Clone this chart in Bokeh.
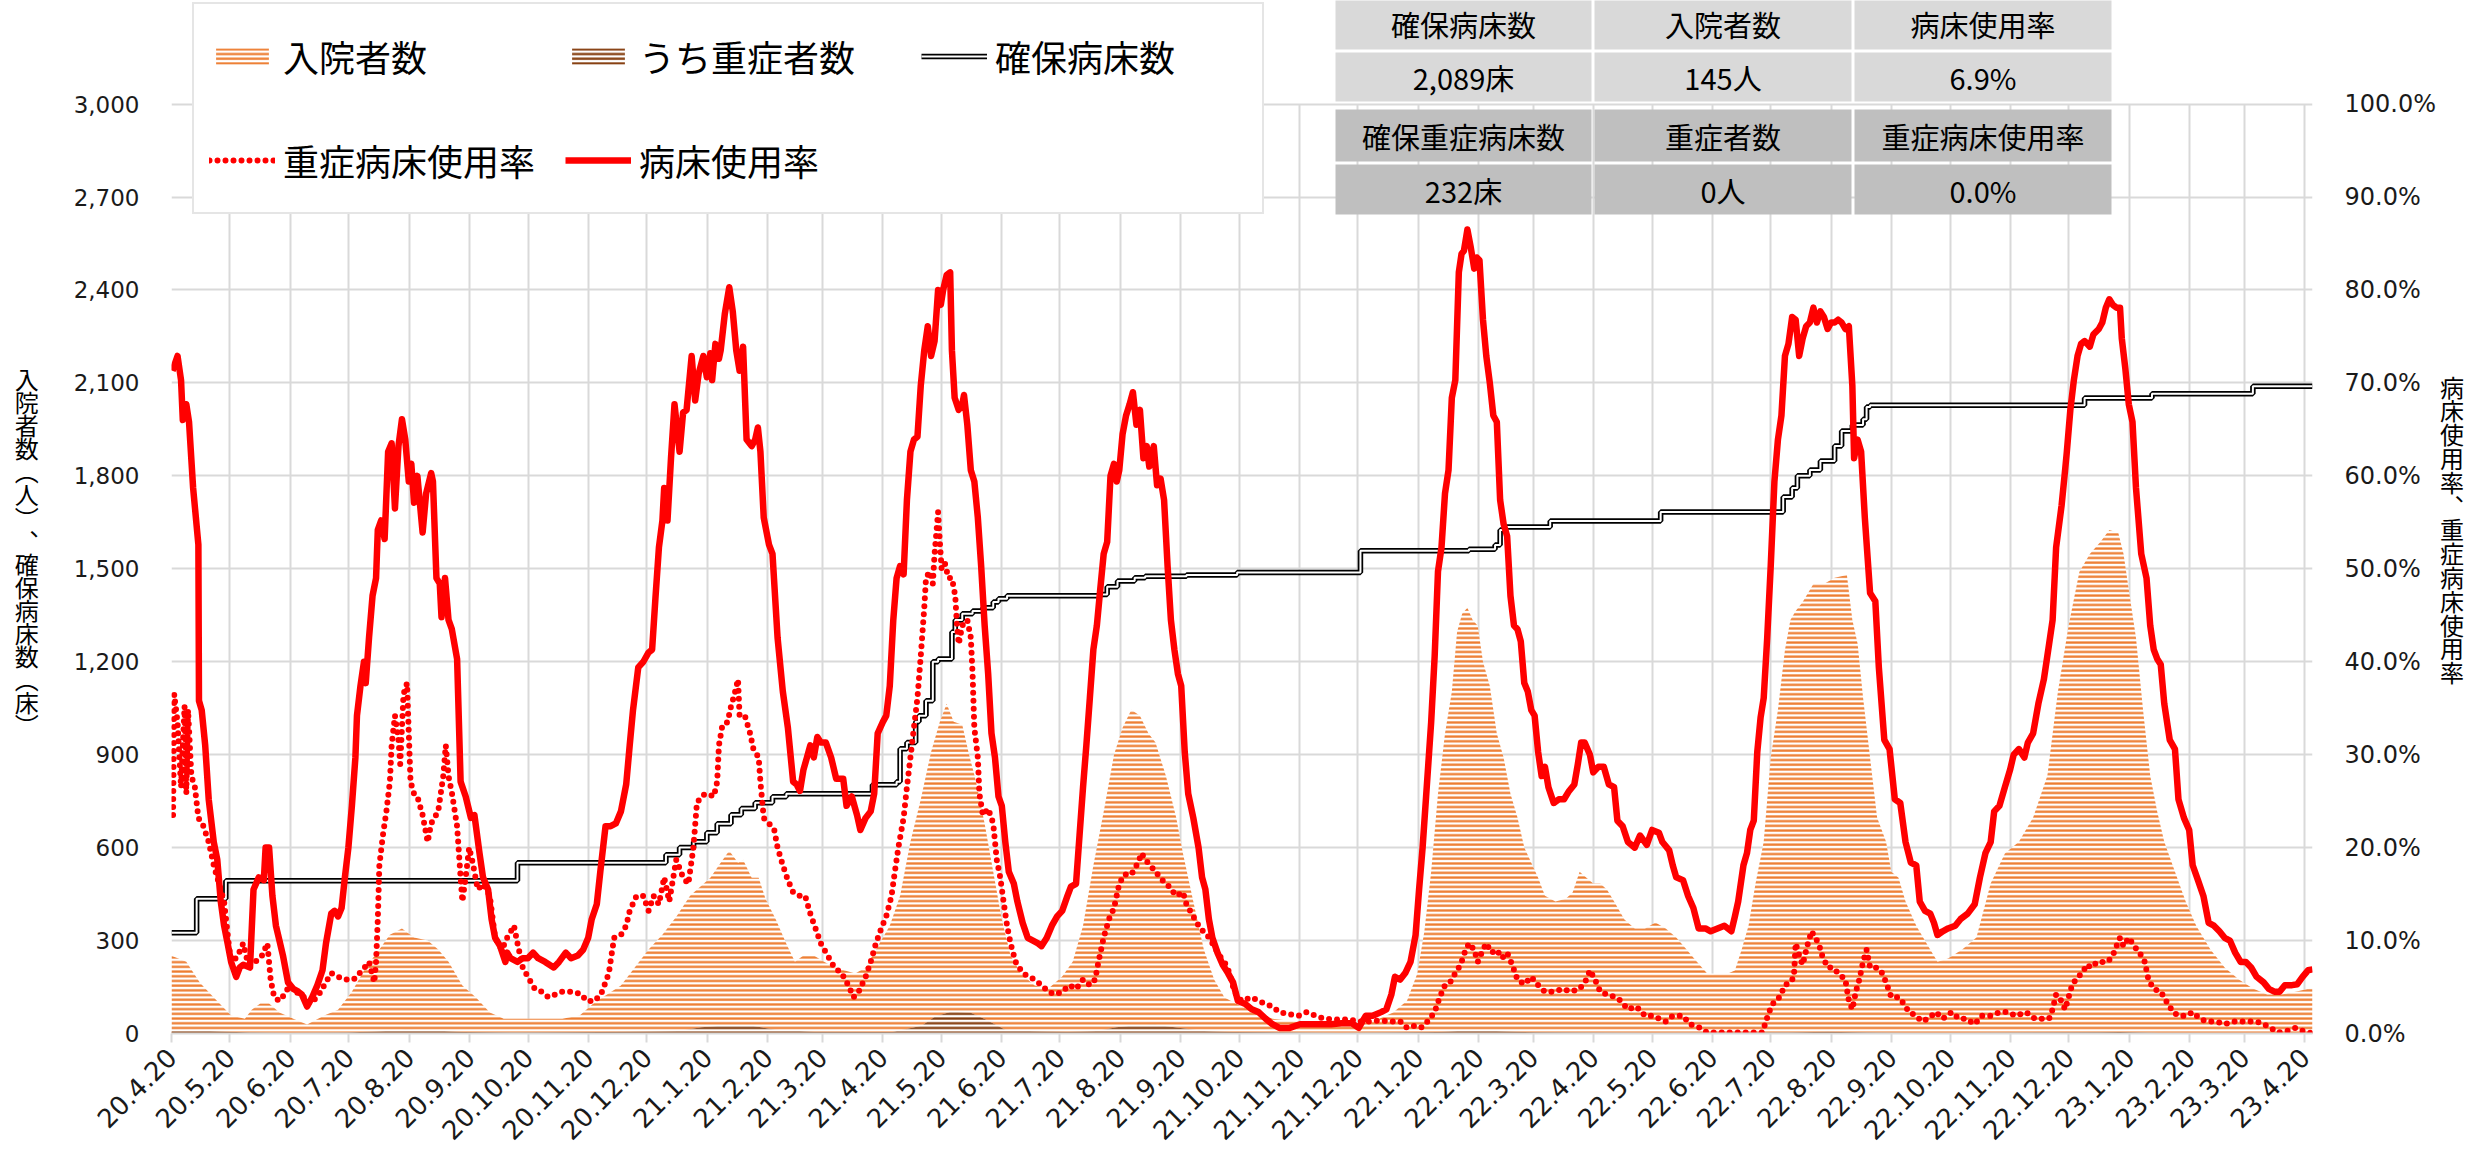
import math
import pandas as pd
from bokeh.plotting import figure
from bokeh.models import (Range1d, LinearAxis, FixedTicker, NumeralTickFormatter,
                          PrintfTickFormatter, Legend, LegendItem, Label, BoxAnnotation,
                          Axis, Grid)
from bokeh.embed import file_html
from bokeh.resources import INLINE

# ---------------- data (x = days since 2020-04-20) ----------------
START = pd.Timestamp("2020-04-20")
END = pd.Timestamp("2023-04-20")

# 病床使用率 (%)
RATE = [(0.5,71.3),(3.1,72.9),(4.9,70.3),(5.8,66.0),(7.6,67.7),(9.0,65.8),(11.1,58.7),(13.8,52.6),(14.1,35.8),(15.5,34.8),(17.3,31.0),(19.1,25.2),(21.7,20.6),(23.5,18.7),(25.3,14.2),(27.0,11.6),(28.8,9.7),(30.6,7.7),(33.2,6.1),(35.0,7.1),(36.8,7.4),(40.3,7.1),(42.1,15.5),(44.8,16.8),(47.4,16.5),(48.3,20.0),(50.1,20.0),(51.8,14.8),(53.6,11.6),(55.4,10.0),(57.2,8.4),(59.8,5.5),(62.5,4.8),(65.1,4.5),(66.9,4.2),(69.6,2.9),(72.2,3.9),(74.9,5.2),(77.5,6.8),(79.3,9.7),(82.0,12.9),(83.7,13.2),(85.5,12.6),(87.3,13.5),(89.0,16.8),(90.8,20.0),(92.6,24.5),(94.4,29.7),(95.2,34.2),(97.0,37.4),(98.8,40.0),(99.7,37.7),(101.4,42.6),(103.2,47.1),(105.0,49.0),(105.9,54.2),(107.6,55.2),(109.4,53.2),(111.2,62.6),(113.0,63.5),(114.7,56.5),(116.5,63.2),(118.3,66.1),(120.0,63.9),(121.8,59.4),(123.1,61.3),(124.5,57.1),(126.2,60.0),(128.9,53.9),(130.7,58.1),(133.3,60.3),(134.2,59.4),(136.0,49.0),(137.7,48.4),(138.6,44.8),(140.4,49.0),(142.2,44.5),(143.9,43.5),(146.6,40.3),(148.4,27.1),(151.0,25.5),(153.7,23.2),(155.5,23.5),(158.1,19.4),(159.9,16.8),(162.5,15.5),(164.3,12.3),(166.1,10.3),(168.7,9.4),(171.4,7.7),(172.3,8.7),(174.0,8.1),(177.6,7.7),(180.3,8.1),(182.9,8.1),(185.6,8.7),(188.2,8.1),(191.8,7.7),(196.2,7.1),(198.9,7.7),(202.4,8.7),(205.1,8.1),(208.6,8.4),(211.3,9.0),(213.9,10.3),(215.7,12.3),(218.3,13.9),(220.1,17.4),(222.8,22.3),(225.4,22.3),(228.1,22.6),(230.7,23.9),(233.4,26.8),(235.2,31.0),(236.9,34.8),(239.6,39.4),(242.2,40.0),(244.9,41.0),(246.7,41.3),(248.4,46.8),(250.2,52.3),(252.0,55.2),(252.9,58.7),(254.6,55.2),(256.4,61.9),(258.2,67.7),(260.8,62.6),(262.6,66.8),(264.4,67.1),(267.0,72.9),(268.8,68.1),(270.6,71.0),
        (273.0,72.9),(274.8,70.6),(276.6,73.2),(277.5,70.3),(279.2,74.2),(281.0,72.6),(281.9,73.5),(284.0,77.4),(286.3,80.3),(288.1,77.7),(289.9,73.5),(291.6,71.3),(293.4,73.9),(295.2,63.9),(297.8,63.2),(299.6,63.9),(301.0,65.2),(302.3,62.6),(304.0,55.5),(306.7,52.6),(308.5,51.6),(311.1,42.6),(313.8,36.8),(316.4,32.9),(319.1,27.1),(320.9,26.8),(322.6,26.1),(324.4,28.4),(326.2,29.7),(327.9,31.0),(329.7,29.7),(331.5,31.9),(333.3,31.3),(335.9,31.3),(338.6,29.7),(341.2,27.4),(344.8,27.4),(346.5,24.5),(349.2,25.5),(351.9,23.5),(353.6,21.9),(356.3,23.2),(358.9,23.9),(360.7,25.8),(362.5,32.3),(365.1,33.5),(366.9,34.2),(368.7,37.4),(370.5,44.5),(372.2,49.0),(374.0,50.3),(375.8,49.4),(377.5,57.4),(379.3,62.6),(381.1,63.9),(382.9,64.2),(384.6,69.7),(386.4,73.5),(388.2,76.1),(389.9,72.9),(391.7,74.5),(393.5,80.0),(394.9,78.4),(396.1,80.0),(397.9,81.6),(399.7,81.9),(400.6,73.5),(402.0,68.4),(404.1,67.1),(405.9,67.7),(406.8,68.7),(408.5,65.5),(410.3,60.6),(412.1,59.4),(413.9,55.5),(415.6,50.3),(417.4,43.9),(419.2,38.7),(420.9,32.3),(422.7,29.7),(424.5,25.5),(426.2,24.5),(428.0,20.6),(429.8,17.4),(432.4,16.1),(434.2,14.2),(436.9,11.9),(439.5,10.3),(442.2,10.0),(444.8,9.7),(446.6,9.4),(449.3,10.3),(451.9,11.6),(454.6,12.6),(457.2,13.2),(459.9,14.8),(461.7,15.8),(464.3,16.1),(466.1,21.3),(467.9,26.5),(469.6,31.0),(471.4,36.1),(473.2,41.3),(475.0,43.9),(476.7,47.7),(478.5,51.6),(480.3,52.9),(482.0,60.0),(483.8,61.3),(485.2,59.4),(486.5,60.6),(488.2,64.5),(490.0,66.5),(491.8,67.7),(493.5,69.0),(495.3,65.5),(497.1,67.1),(498.9,61.9),(500.6,63.2),(501.9,61.0),(504.2,63.2),(505.9,59.0),(507.7,59.7),(509.5,57.4),(511.3,50.3),(513.0,44.5),(514.8,41.3),(516.6,38.7),(518.3,37.4),(520.1,30.3),(521.9,25.8),(524.5,23.2),(527.2,20.0),(529.0,16.8),(530.7,15.5),(532.5,12.3),(534.3,10.3),(536.9,8.7),(539.6,7.4),(542.3,6.5),(544.9,5.5),
        (547.4,3.5),(551.0,3.2),(554.5,2.6),(558.0,2.3),(561.6,1.6),(565.1,1.0),(568.7,0.6),(574.0,0.6),(579.3,1.0),(584.6,1.0),(589.9,1.0),(595.2,1.0),(600.5,1.1),(605.9,1.1),(609.4,0.6),(613.0,1.9),(616.5,1.9),(620.9,2.3),(623.6,2.6),(626.2,4.2),(628.0,6.1),(630.7,5.8),(633.3,6.5),(636.0,7.7),(638.6,10.6),(640.4,15.5),(642.2,20.0),(644.0,25.5),(646.6,33.5),(648.4,40.6),(650.1,49.7),(651.9,52.3),(653.7,58.1),(655.5,60.6),(657.2,68.4),(659.0,70.3),(660.8,81.9),(662.2,83.9),(663.4,84.2),(665.2,86.5),(667.0,84.5),(668.7,82.3),(670.0,83.5),(671.4,83.2),(673.2,76.8),(674.9,72.9),(676.7,70.0),(678.5,66.5),(680.3,65.8),(682.0,57.4),(683.8,54.8),(685.6,53.5),(687.3,47.1),(689.1,43.9),(690.9,43.5),(692.6,42.2),(694.4,37.7),(696.2,36.8),(698.0,34.8),(699.7,34.2),(701.5,30.3),(703.3,27.7),(705.0,28.7),(706.8,26.5),(709.5,24.8),(712.1,25.2),(714.8,25.2),(717.4,26.1),(720.1,26.8),(721.9,29.0),(723.6,31.3),(725.4,31.3),(728.1,30.0),(729.8,28.1),(732.5,28.7),(735.2,28.7),(737.8,26.8),(740.5,26.5),(742.2,22.9),(744.9,22.3),(747.6,20.6),(751.1,20.0),(753.8,21.3),(757.3,20.3),(760.0,21.9),(763.5,21.6),(765.3,20.6),(768.8,19.7),(770.6,18.1),(772.4,16.8),(775.9,16.5),(778.5,14.8),(781.2,13.5),(783.9,11.3),(787.4,11.3),(790.1,11.0),(793.6,11.3),(797.1,11.6),(800.7,11.0),(802.5,12.6),(804.2,14.2),(806.9,18.1),(808.7,19.4),(810.4,21.9),(812.2,22.9),(814.0,30.3),(815.7,34.0),
        (817.3,36.1),(819.1,42.6),(820.9,50.3),(822.8,59.4),(824.6,63.9),(826.4,66.5),(828.2,72.9),(830.0,74.2),(831.9,77.1),(833.7,76.8),(835.5,72.9),(837.3,74.8),(839.1,76.1),(841.0,76.5),(842.8,78.1),(844.6,76.5),(846.4,77.7),(848.2,77.1),(850.1,75.8),(851.9,76.5),(853.7,76.5),(855.5,76.8),(857.3,76.5),(859.2,75.8),(861.0,76.1),(862.8,69.7),(863.7,61.9),(865.5,63.9),(867.3,62.6),(869.2,55.5),(871.9,47.4),(874.6,46.5),(876.4,39.4),(879.2,31.6),(881.9,30.6),(884.6,25.2),(887.4,24.8),(890.1,20.6),(892.8,18.4),(895.6,18.1),(897.4,14.2),(900.1,13.2),(902.8,12.9),(904.7,11.9),(906.5,10.6),(909.2,11.0),(911.9,11.3),(915.6,11.6),(918.3,12.3),(922.0,12.9),(925.6,13.9),(928.3,16.8),(931.1,19.4),(933.8,20.6),(935.6,23.9),(938.3,24.5),(941.1,26.5),(943.8,28.4),(945.6,30.0),(948.3,30.6),(951.1,29.7),(952.9,31.3),(955.6,32.3),(958.3,35.5),(961.1,38.1),(963.8,41.9),(965.6,44.5),(967.4,52.3),(970.2,56.8),(972.0,60.6),(972.9,62.6),(974.7,67.1),(976.5,70.3),(978.4,72.9),(980.2,74.2),(982.0,74.5),(984.7,73.9),(986.5,75.2),(989.3,75.8),(991.1,76.5),(992.9,78.1),(994.7,79.0),(996.5,78.4),(998.4,78.1),(1000.2,78.1),(1001.1,74.8),(1002.9,71.6),(1004.7,67.7),(1006.6,65.8),(1008.4,58.7),(1011.1,51.6),(1013.8,49.0),(1015.7,43.9),(1017.5,41.3),(1019.3,40.3),(1021.1,39.7),(1022.9,35.5),(1025.7,31.6),(1028.4,30.6),(1030.2,25.2),(1033.0,23.2),(1035.7,21.9),(1037.5,18.1),(1040.2,16.5),(1043.0,14.8),(1045.7,11.9),(1048.4,11.6),(1051.2,11.0),(1053.9,10.3),(1056.6,10.0),(1059.3,8.7),(1062.1,7.7),(1064.8,7.7),(1067.5,7.1),(1070.3,6.1),(1073.9,5.5),(1076.6,4.8),(1079.4,4.5),(1082.1,4.5),(1084.8,5.2),(1088.5,5.2),(1091.2,5.3),(1093.9,6.1),(1096.7,6.8),(1099.0,6.9)]

# 重症病床使用率 (%)
SEV_RATE = [(0.8,23.5),(1.4,36.5),(3.1,33.5),(4.9,26.5),(6.7,35.2),(7.6,25.8),(8.5,34.8),(10.2,27.7),(12.0,26.5),(13.8,23.2),(16.4,22.3),(19.1,20.6),(21.7,18.1),(24.4,16.1),(27.0,14.2),(29.7,9.0),(31.5,7.7),(34.1,8.4),(36.8,9.7),(39.4,7.4),(43.0,7.7),(46.5,8.4),(49.2,9.7),(50.9,5.8),(52.7,3.9),(55.4,3.5),(58.0,4.2),(60.7,5.2),(63.4,4.5),(66.9,4.2),(70.4,3.2),(74.9,3.9),(78.4,5.2),(82.0,6.5),(85.5,6.1),(89.0,5.8),(93.5,5.8),(97.9,6.8),(101.4,7.7),(104.1,5.5),(105.0,7.7),(105.9,12.3),(106.7,18.1),(108.5,21.3),(110.3,23.9),(112.1,27.1),(113.0,31.0),(114.7,34.2),(116.5,31.6),(117.4,29.0),(119.1,36.5),(120.9,37.7),(121.8,32.3),(122.7,27.1),(124.5,25.8),(126.2,25.5),(128.9,23.5),(131.5,20.6),(133.3,22.6),(136.9,23.9),(139.5,27.7),(140.8,31.0),(142.2,27.7),(144.0,25.8),(146.6,22.3),(148.4,16.8),(149.3,14.2),(151.0,16.8),(152.8,20.0),(154.6,18.4),(157.2,15.5),(159.9,16.1),(163.4,14.8),(166.1,10.3),(169.6,9.0),(172.3,10.3),(175.8,11.6),(177.6,9.7),(180.3,7.1),(182.9,6.1),(186.5,4.8),(190.0,4.5),(193.5,3.9),(197.1,4.2),(200.6,4.5),(205.9,4.5),(210.4,4.2),(213.0,3.5),(217.5,3.5),(221.0,4.5),(224.5,6.5),(227.2,10.3),(230.7,10.6),(233.4,11.6),(235.2,13.2),(238.7,14.8),(242.2,14.8),(244.9,13.2),(247.5,14.8),(250.2,13.9),(252.9,16.8),(255.5,14.2),(259.1,18.7),(262.6,16.8),(265.3,16.1),(267.9,20.0),(269.7,24.8),(272.3,25.6),
            (274.8,25.8),(278.4,25.5),(280.1,27.1),(281.0,31.0),(282.8,33.2),(285.4,33.5),(287.2,35.2),(289.0,36.5),(290.8,38.1),(291.6,34.2),(294.3,34.2),(297.0,32.3),(298.7,30.6),(301.4,29.7),(302.3,27.1),(304.0,23.2),(306.7,22.6),(309.4,21.9),(311.1,20.0),(313.8,18.1),(316.4,16.5),(319.1,15.2),(322.6,14.8),(325.3,14.8),(327.9,12.9),(330.6,11.3),(333.3,9.7),(336.8,8.4),(340.3,7.1),(343.9,6.5),(347.4,5.2),(350.1,3.9),(352.7,4.5),(356.3,6.1),(358.9,7.7),(361.6,9.7),(364.3,11.3),(366.9,12.6),(369.6,14.8),(371.3,17.4),(373.1,20.0),(375.8,23.2),(377.5,26.5),(379.3,29.7),(381.1,32.9),(382.9,36.1),(384.6,40.6),(386.4,45.8),(387.3,49.0),(389.1,49.7),(390.8,48.4),(391.7,51.6),(393.5,56.1),(394.4,52.9),(395.3,50.0),(397.0,50.6),(398.8,49.0),(400.6,49.0),(402.3,47.1),(403.2,43.9),(404.1,41.9),(405.9,43.9),(408.5,44.5),(410.3,42.6),(411.2,38.7),(412.1,32.9),(413.9,29.7),(414.7,25.8),(416.5,23.5),(419.2,24.2),(421.8,22.6),(423.6,18.7),(425.4,16.8),(427.1,14.2),(428.9,11.6),(430.7,9.7),(433.3,7.7),(436.9,6.5),(440.4,6.1),(443.1,5.8),(446.6,5.2),(450.2,4.5),(453.7,4.2),(457.2,4.5),(460.8,5.2),(464.3,4.8),(467.9,5.8),(471.4,5.2),(474.1,5.8),(475.8,7.7),(478.5,10.3),(481.2,12.3),(483.8,13.5),(486.5,16.1),(489.1,17.1),(492.7,17.1),(496.2,18.4),(498.0,19.4),(499.8,18.7),(502.4,18.1),(505.1,17.4),(508.6,16.5),(512.1,15.8),(515.7,14.8),(519.2,15.2),(521.0,13.9),(524.5,12.6),(528.1,11.3),(531.6,10.6),(535.2,9.4),(537.8,8.4),(540.5,7.7),(543.1,6.5),
            (545.6,4.5),(549.2,3.5),(554.5,3.9),(558.0,3.5),(561.6,3.2),(565.1,2.9),(568.7,2.3),(573.1,2.1),(578.4,1.9),(582.8,2.3),(587.3,1.9),(591.7,1.6),(597.0,1.5),(605.0,1.5),(609.4,1.3),(614.7,1.3),(620.0,1.4),(625.3,1.3),(630.7,1.3),(634.2,0.6),(637.7,0.8),(641.3,0.6),(644.8,1.3),(648.4,2.3),(651.0,3.9),(653.7,5.2),(656.3,5.5),(659.0,6.5),(661.7,7.4),(664.3,9.0),(666.1,9.7),(668.7,9.0),(670.5,7.7),(673.2,9.0),(674.9,9.7),(677.6,8.7),(680.3,9.0),(682.9,8.1),(685.6,8.7),(688.2,7.4),(690.9,5.8),(694.4,5.3),(698.0,6.1),(701.5,5.2),(705.0,4.5),(709.5,4.5),(713.9,4.8),(718.3,4.5),(722.8,4.8),(726.3,5.8),(728.1,6.8),(730.7,5.8),(733.4,4.5),(736.9,4.2),(741.4,3.9),(744.0,3.5),(747.6,2.6),(752.0,2.9),(756.4,1.9),(760.8,1.9),(763.5,1.6),(767.0,1.3),(770.6,1.9),(775.9,1.9),(779.4,1.0),(784.7,0.6),(788.3,0.1),(793.6,0.1),(800.7,0.1),(806.0,0.1),(811.3,0.1),(816.6,0.1),
            (820.0,2.3),(822.8,3.5),(825.5,3.9),(828.2,5.2),(831.0,5.5),(832.8,6.1),(833.7,9.7),(835.5,8.4),(837.3,7.4),(840.0,9.7),(841.9,11.0),(843.7,10.3),(845.5,9.7),(847.3,8.4),(850.1,7.1),(852.8,7.1),(855.5,6.5),(859.2,5.8),(861.0,3.5),(862.8,2.6),(864.6,4.5),(866.4,5.8),(868.3,7.7),(870.1,9.0),(871.9,7.1),(874.6,7.1),(877.4,6.8),(880.1,5.5),(882.8,3.9),(886.5,3.9),(889.2,3.2),(891.9,2.3),(895.6,1.9),(898.3,1.3),(901.9,1.6),(905.6,2.3),(909.2,1.6),(913.8,2.3),(917.4,1.6),(921.0,1.6),(925.6,1.0),(929.2,1.9),(933.8,1.9),(938.3,2.3),(942.9,2.3),(946.5,1.9),(952.0,2.3),(956.5,1.6),(961.1,1.6),(963.8,1.6),(965.6,2.6),(967.4,4.2),(970.2,3.5),(972.0,2.6),(973.8,3.9),(975.6,5.2),(978.4,6.1),(981.1,6.5),(982.9,7.4),(985.6,7.1),(988.4,7.7),(991.1,7.7),(993.8,7.7),(996.5,8.4),(998.4,9.4),(1000.2,10.3),(1002.0,9.4),(1004.7,10.3),(1007.5,9.4),(1010.2,8.7),(1012.9,7.7),(1014.8,5.8),(1017.5,4.8),(1021.1,4.5),(1023.9,3.5),(1027.5,2.3),(1030.2,1.9),(1033.9,1.9),(1037.5,2.3),(1041.1,1.6),(1044.8,1.3),(1049.3,1.3),(1053.9,1.0),(1059.3,1.3),(1064.8,1.3),(1070.3,1.3),(1073.9,1.0),(1077.5,0.6),(1081.2,0.1),(1086.6,0.3),(1090.3,0.6),(1093.9,0.3),(1097.5,0.1),(1099.0,0.0)]

# 入院者数 (人)
HOSP = [(0,251),(7.6,232),(14.6,164),(21.7,116),(30.6,58),(37.7,48),(41.2,77),(45.6,97),(50.1,97),(55.4,68),(62.5,48),(69.6,29),(78.4,58),(85.5,77),(92.6,135),(99.7,213),(106.7,271),(112.1,319),(118.3,339),(124.5,310),(131.5,300),(136.9,271),(142.2,232),(149.3,155),(156.3,116),(163.4,68),(170.5,48),(182.9,48),(191.8,48),(200.6,48),(209.5,58),(216.6,97),(223.6,126),(230.7,155),(237.8,213),(244.9,271),(252.0,319),(259.1,377),(266.2,445),
        (276.6,503),(281.9,551),(286.3,590),(290.8,551),(293.4,561),(297.8,503),(301.4,503),(304.9,435),(310.2,368),(315.6,290),(320.0,232),(324.4,252),(329.7,252),(335.0,232),(340.3,213),(345.7,203),(351.0,194),(356.3,213),(361.6,271),(368.7,348),(374.0,445),(379.3,619),(384.6,755),(389.9,909),(394.4,1006),(397.9,1064),(401.5,1006),(405.9,997),(409.4,900),(413.0,813),(417.4,677),(421.8,522),(426.2,368),(430.7,252),(436.0,194),(443.1,155),(450.2,145),(457.2,184),(462.6,232),(467.9,348),(473.2,542),(478.5,716),(483.8,900),(488.2,987),(492.7,1045),(497.1,1026),(501.5,968),(505.1,939),(510.4,832),(515.7,697),(519.2,581),(524.5,426),(529.9,271),(535.2,174),(540.5,116),
        (549.2,87),(556.3,68),(565.1,48),(577.5,39),(595.2,35),(609.4,29),(620.0,48),(627.1,68),(634.2,106),(639.5,194),(643.1,329),(646.6,522),(650.1,774),(653.7,968),(657.2,1103),(659.9,1296),(662.5,1355),(665.2,1374),(667.9,1335),(670.5,1316),(673.2,1200),(676.7,1122),(680.3,968),(683.8,890),(687.3,774),(690.9,697),(694.4,600),(698.0,551),(701.5,503),(705.0,445),(710.4,426),(715.7,435),(719.2,455),(722.8,522),(726.3,503),(729.8,484),(733.4,484),(736.9,464),(740.5,426),(745.8,368),(751.1,339),(756.4,339),(761.7,358),(767.0,339),(772.4,310),(777.7,271),(783.0,232),(788.3,194),(793.6,194),(798.9,194),(802.5,203),(806.0,271),(809.5,348),(813.1,484),
        (817.3,619),(820.9,890),(824.6,1045),(828.2,1238),(831.0,1335),(833.7,1364),(837.3,1393),(842.8,1451),(848.2,1451),(853.7,1471),(860.0,1480),(862.8,1335),(865.5,1258),(868.3,1084),(871.9,890),(875.5,697),(880.1,619),(882.8,522),(886.5,503),(890.1,426),(895.6,348),(901.0,290),(906.5,232),(911.9,242),(919.2,271),(926.5,310),(933.8,484),(941.1,581),(948.3,619),(955.6,697),(962.9,832),(968.3,1103),(973.8,1316),(979.3,1490),(984.7,1548),(990.2,1587),(994.7,1625),(999.3,1616),(1002.0,1548),(1004.7,1432),(1008.4,1277),(1012.0,1045),(1015.7,832),(1019.3,716),(1022.9,619),(1028.4,522),(1033.9,426),(1039.3,348),(1046.6,271),(1053.9,213),(1061.2,174),(1068.4,145),(1075.7,126),(1083.0,126),(1090.3,135),(1097.5,145),(1099.0,145)]

# うち重症者数 (人)
SEVERE = [(0,10),(20,8),(40,3),(60,2),(90,3),(110,8),(120,12),(135,10),(150,5),(180,3),(220,5),(260,8),(272,20),(285,27),(298,25),(310,12),(330,6),(360,5),(370,5),(385,25),(392,55),(400,70),(410,68),(418,45),(428,12),(440,8),(460,6),(475,8),(485,20),(495,27),(505,28),(515,20),(530,8),(545,5),(600,2),(650,5),(665,10),(680,8),(700,4),(760,2),(830,3),(850,6),(870,3),(900,1),(990,4),(1000,5),(1020,2),(1099,0)]

# 確保病床数 (床) — change points of the step line
BEDS = [(0,325),(12.9,435),(27.9,493),(177.6,551),(253.8,577),(260.8,600),(268.0,619),(274.8,648),(280.1,677),(287.2,706),(292.5,726),(299.6,745),(308.5,764),(315.6,774),(359.8,803),(372.2,813),(374.0,919),(377.5,939),(382.0,1006),(383.7,1026),(387.3,1074),(390.8,1200),(393.5,1209),(400.6,1296),(402.3,1335),(405.9,1355),(411.2,1364),(416.5,1374),(421.8,1393),(424.5,1403),(428.9,1413),(476.7,1417),(480.3,1442),(485.6,1461),(494.4,1471),(499.8,1476),(521.0,1480),(547.0,1488),(610.3,1558),(666.0,1563),(679.4,1577),(682.0,1625),(684.7,1635),(707.7,1654),(764.4,1683),(827.3,1732),(831.9,1761),(834.6,1800),(841.0,1819),(846.4,1848),(853.7,1896),(857.3,1945),(862.8,1964),(868.3,1983),(870.1,2022),(871.9,2028),(982.0,2051),(1016.6,2065),(1068.4,2089),(1099.0,2089)]

TABLE_HEAD1 = ["確保病床数", "入院者数", "病床使用率"]
TABLE_VAL1 = ["2,089床", "145人", "6.9%"]
TABLE_HEAD2 = ["確保重症病床数", "重症者数", "重症病床使用率"]
TABLE_VAL2 = ["232床", "0人", "0.0%"]

LEFT_TITLE = "入院者数︵人︶︑確保病床数︵床︶"
RIGHT_TITLE = "病床使用率︑重症病床使用率"

TICK_DATES = [pd.Timestamp(y, m, 20) for y in range(2020, 2024) for m in range(1, 13)
              if START <= pd.Timestamp(y, m, 20) <= END]
TICK_DAYS = [(t - START).days for t in TICK_DATES]
TICK_LABELS = [f"{t.year % 100}.{t.month}.{t.day}" for t in TICK_DATES]
Y_TICKS = list(range(0, 3001, 300))
P_TICKS = list(range(0, 101, 10))


def cols(pairs):
    return [a for a, _ in pairs], [b for _, b in pairs]


# ---------------- geometry (page pixels) ----------------
W, H = 2467, 1151
FL, FR, FT, FB = 171, 2328, 0, 1037      # plot frame
Y3000 = 104                               # pixel row of 3,000 / 100 %
Y_TOP = 3000 * (FB - FT) / (FB - Y3000)   # frame reaches above 3,000 (for table/legend)
P_TOP = 100 * (FB - FT) / (FB - Y3000)

FONT_NUM = "DejaVu Sans"
FONT_JP = "Noto Sans CJK JP"
GRID = "#d9d9d9"

p = figure(width=W, height=H, output_backend="svg", toolbar_location=None,
           x_range=Range1d(0, 1099), y_range=Range1d(0, Y_TOP),
           min_border_left=FL, min_border_right=W - FR, min_border_top=FT,
           min_border_bottom=H - FB, background_fill_color="white",
           border_fill_color="white")
p.outline_line_color = None
p.extra_y_ranges = {"pct": Range1d(0, P_TOP)}

HAS_LABEL_ORIENT = "axis_label_orientation" in Axis.properties()

# x axis
xa = p.xaxis[0]
xa.ticker = FixedTicker(ticks=TICK_DAYS)
xa.major_label_overrides = {d: s for d, s in zip(TICK_DAYS, TICK_LABELS)}
xa.major_label_orientation = math.pi / 4
xa.major_label_text_font = FONT_NUM
xa.major_label_text_font_size = "26px"
xa.major_label_text_color = "#1a1a1a"
xa.major_label_standoff = 10
xa.axis_line_color = GRID
xa.axis_line_width = 2
xa.major_tick_line_color = GRID
xa.major_tick_line_width = 2
xa.major_tick_out = 9
xa.major_tick_in = 0
xa.minor_tick_line_color = None

# left axis
ya = p.yaxis[0]
ya.ticker = FixedTicker(ticks=Y_TICKS)
ya.formatter = NumeralTickFormatter(format="0,0")
ya.major_label_text_font = FONT_NUM
ya.major_label_text_font_size = "23px"
ya.major_label_text_color = "#1a1a1a"
ya.major_label_standoff = 26
ya.axis_line_color = None
ya.major_tick_line_color = None
ya.minor_tick_line_color = None

# right axis
yr = LinearAxis(y_range_name="pct", ticker=FixedTicker(ticks=P_TICKS),
                formatter=PrintfTickFormatter(format="%.1f%%"))
yr.major_label_text_font = FONT_NUM
yr.major_label_text_font_size = "24px"
yr.major_label_text_color = "#1a1a1a"
yr.major_label_standoff = 26
yr.axis_line_color = None
yr.major_tick_line_color = None
yr.minor_tick_line_color = None
p.add_layout(yr, "right")

# stacked (upright) axis titles
for ax, title, pad, lh, standoff in ((ya, LEFT_TITLE, 3, 0.66, 32), (yr, RIGHT_TITLE, 1, 0.68, 1)):
    if HAS_LABEL_ORIENT:
        ax.axis_label = "\n".join(["\u3000"] * pad + list(title))
        ax.axis_label_orientation = "horizontal"
        ax.axis_label_text_line_height = lh
    else:
        ax.axis_label = title
    ax.axis_label_text_font = FONT_JP
    ax.axis_label_text_font_size = "24px"
    ax.axis_label_text_font_style = "normal"
    ax.axis_label_text_color = "black"
    ax.axis_label_standoff = standoff

# grid: horizontal lines at the value ticks, vertical lines only up to 3,000
p.ygrid.grid_line_color = GRID
p.ygrid.grid_line_width = 2
if "cross_bounds" in Grid.properties():
    p.xgrid.grid_line_color = GRID
    p.xgrid.grid_line_width = 2
    p.xgrid.cross_bounds = (0, 3000)
else:
    p.xgrid.grid_line_color = None
    p.segment(x0=TICK_DAYS, y0=[0] * len(TICK_DAYS), x1=TICK_DAYS,
              y1=[3000] * len(TICK_DAYS), line_color=GRID, line_width=2)

# bars as hatched areas
hx, hy = cols(HOSP)
r_hosp = p.varea(x=hx, y1=[0] * len(hx), y2=hy, fill_color="white",
                 hatch_pattern="horizontal_line", hatch_color="#ed7d31",
                 hatch_scale=4.7, hatch_weight=2.3)
sx_, sy_ = cols(SEVERE)
r_sev = p.varea(x=sx_, y1=[0] * len(sx_), y2=sy_, fill_color="white",
                hatch_pattern="horizontal_line", hatch_color="#843c0c",
                hatch_scale=4.7, hatch_weight=2.3)

# secured beds: double line
bx, by = cols(BEDS)
r_bed_b = p.step(x=bx, y=by, mode="after", line_color="black", line_width=5.5)
r_bed_w = p.step(x=bx, y=by, mode="after", line_color="white", line_width=2)

# severe bed usage (dotted)
vx, vy = cols(SEV_RATE)
r_sevrate = p.line(x=vx, y=vy, y_range_name="pct", line_color="#ff0000",
                   line_width=6, line_dash="0 8", line_cap="round")

# bed usage (thick solid)
rx, ry = cols(RATE)
r_rate = p.line(x=rx, y=ry, y_range_name="pct", line_color="#ff0000",
                line_width=6.5, line_join="round")


def sxp(X):
    return X - FL


def syp(Y):
    return FB - Y


# legend
legend = Legend(items=[
    LegendItem(label="入院者数", renderers=[r_hosp]),
    LegendItem(label="うち重症者数", renderers=[r_sev]),
    LegendItem(label="確保病床数", renderers=[r_bed_b, r_bed_w]),
    LegendItem(label="重症病床使用率", renderers=[r_sevrate]),
    LegendItem(label="病床使用率", renderers=[r_rate]),
], location=(sxp(192), syp(218)), orientation="horizontal", ncols=3,
    label_text_font=FONT_JP, label_text_font_size="36px", label_text_color="black",
    glyph_width=66, glyph_height=20, label_width=252, label_height=74, label_standoff=8,
    spacing=30, padding=15, margin=0,
    border_line_color="#cccccc", border_line_width=2,
    background_fill_color="white", background_fill_alpha=1.0)
p.add_layout(legend)

# summary table
COLS_X = [(1335, 1591), (1594, 1851), (1854, 2111)]
ROWS_Y = [(2, 53), (56, 105), (113, 165), (168, 218)]
ROW_FILL = ["#d9d9d9", "#d9d9d9", "#bfbfbf", "#bfbfbf"]
ROW_TEXT = [TABLE_HEAD1, TABLE_VAL1, TABLE_HEAD2, TABLE_VAL2]
for (y0, y1), fill, texts in zip(ROWS_Y, ROW_FILL, ROW_TEXT):
    for (x0, x1), t in zip(COLS_X, texts):
        p.add_layout(BoxAnnotation(left=sxp(x0), right=sxp(x1), top=syp(y0), bottom=syp(y1),
                                   left_units="screen", right_units="screen",
                                   top_units="screen", bottom_units="screen",
                                   fill_color=fill, fill_alpha=1.0, line_color=None))
        p.add_layout(Label(x=sxp((x0 + x1) / 2), y=syp((y0 + y1) / 2), x_units="screen",
                           y_units="screen", text=t, text_align="center",
                           text_baseline="middle", text_font=FONT_JP,
                           text_font_size="29px", text_color="black"))

open("out.html", "w").write(file_html(p, INLINE))
